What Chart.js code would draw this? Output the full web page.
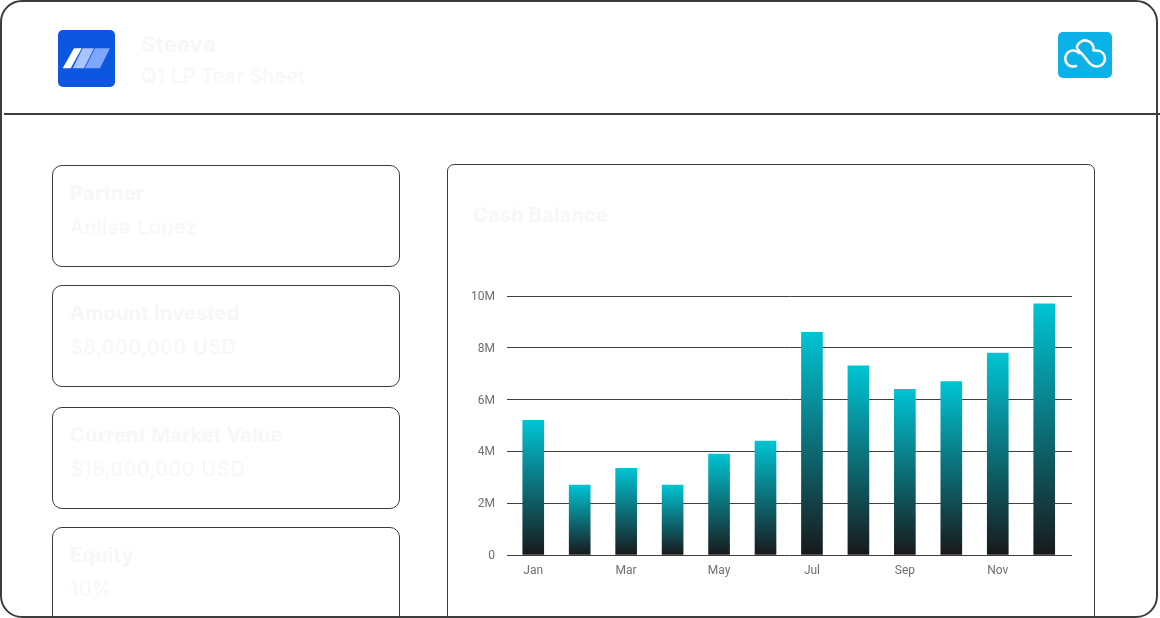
<!DOCTYPE html>
<html>
<head>
<meta charset="utf-8">
<script src="https://cdn.jsdelivr.net/npm/chart.js@4"></script>
<style>
html,body{margin:0;padding:0;background:#fff;width:1160px;height:618px;overflow:hidden}
#frame{position:absolute;left:0;top:0;width:1158px;height:618px;box-sizing:border-box;border:2px solid #3c3c3c;border-radius:22px;z-index:5;pointer-events:none}
#rule{position:absolute;left:4px;top:113px;width:1156px;height:2px;background:#3c3c3c;z-index:6}
.abs{position:absolute}
.t{position:absolute;color:#f7f7f8;font-family:Inter,"Open Sans",sans-serif;font-size:20px;white-space:nowrap;line-height:1;letter-spacing:.2px;z-index:3}
.b{font-weight:700}
.v{letter-spacing:.6px}
.card{position:absolute;box-sizing:border-box;left:52px;width:348px;height:102px;border:1px solid #3c3c3c;border-radius:10px;background:#fff}
#panel{position:absolute;box-sizing:border-box;left:447px;top:164px;width:648px;height:470px;border:1px solid #3c3c3c;border-radius:7px;background:#fff}
canvas{position:absolute;left:447px;top:164px}
</style>
</head>
<body>
<div id="frame"></div>
<div id="rule"></div>
<svg class="abs" style="left:0;top:0" width="1160" height="618">
  <rect x="58" y="30" width="57" height="57" rx="5" fill="#0d56e0"/>
  <polygon points="62.7,68.3 70.7,68.3 81.7,48.3 74,48.3" fill="#ffffff"/>
  <polygon points="72.7,68.3 84,68.3 94,48.3 82.7,48.3" fill="#a9c4ff"/>
  <polygon points="85,68.3 100,68.3 110,48.3 95,48.3" fill="#7ea6ff"/>
  <rect x="1058" y="32" width="54" height="46" rx="5" fill="#0ab2e8"/>
  <path d="M1076 66 A8 8 0 1 1 1079 53" fill="none" stroke="#fff" stroke-width="2.6" stroke-linecap="round"/>
  <path d="M1077 46.5 A8.5 8.5 0 0 1 1093.5 50.5 H1097 A8 8 0 0 1 1097 66.5 C1089 66.5 1087 58 1081 53 C1078 50 1076.5 48 1077 46.5" fill="none" stroke="#fff" stroke-width="2.6" stroke-linecap="round" stroke-linejoin="round"/>
</svg>
<div class="t b" style="left:141px;top:33px;font-size:22px">Steeva</div>
<div class="t" style="left:141px;top:66px">Q1 LP Tear Sheet</div>

<div class="card" style="top:164.5px"></div>
<div class="card" style="top:284.5px"></div>
<div class="card" style="top:406.5px"></div>
<div class="card" style="top:526.5px;height:140px"></div>
<div class="t b" style="left:70px;top:183px">Partner</div>
<div class="t v" style="left:70px;top:217px">Anlisa Lopez</div>
<div class="t b" style="left:70px;top:303px">Amount Invested</div>
<div class="t v" style="left:70px;top:337px">$8,000,000 USD</div>
<div class="t b" style="left:70px;top:425px">Current Market Value</div>
<div class="t v" style="left:70px;top:459px">$16,000,000 USD</div>
<div class="t b" style="left:70px;top:545px">Equity</div>
<div class="t v" style="left:70px;top:579px">10%</div>

<div id="panel"></div>
<div class="t b" style="left:473px;top:205px">Cash Balance</div>
<canvas id="c" width="648" height="450"></canvas>
<script>
const months = ["Jan","Feb","Mar","Apr","May","Jun","Jul","Aug","Sep","Oct","Nov","Dec"];
const cashBalance = [5200000,2700000,3350000,2700000,3900000,4400000,8600000,7300000,6400000,6700000,7800000,9700000];
const shownMonths = ["Jan","Mar","May","Jul","Sep","Nov"];

function barGradient(ctx){
  const chart = ctx.chart;
  if(!chart.chartArea || ctx.parsed === undefined) return "#00c4d4";
  const y = chart.scales.y;
  const top = y.getPixelForValue(ctx.parsed.y);
  const bottom = y.getPixelForValue(0);
  const g = chart.ctx.createLinearGradient(0, top, 0, bottom);
  g.addColorStop(0, "#00c4d4");
  g.addColorStop(1, "#18191b");
  return g;
}

new Chart(document.getElementById("c"), {
  type: "bar",
  data: { labels: months, datasets: [{ label: "Cash Balance", data: cashBalance, backgroundColor: barGradient, barThickness: 21, borderWidth: 0 }] },
  options: {
    responsive: false,
    animation: false,
    devicePixelRatio: 1,
    layout: { padding: { top: 132, right: 23, left: 0, bottom: 0 } },
    plugins: { legend: { display: false }, title: { display: false }, tooltip: { enabled: false } },
    scales: {
      x: {
        grid: { display: false, drawTicks: false },
        border: { display: false },
        ticks: {
          autoSkip: false, maxRotation: 0, padding: 9,
          color: "#6f6f6f", font: { family: "Roboto", size: 12 },
          callback(v){ const l = this.getLabelForValue(v); return shownMonths.includes(l) ? l : ""; }
        },
        afterFit(s){ s.height = 59; },
        afterUpdate(s){ s._startValue = -0.565; s._valueRange = 12.163; }
      },
      y: {
        min: 0, max: 10000000,
        grid: { color: "#3f3f3f", lineWidth: 1, drawTicks: false },
        border: { display: false },
        ticks: {
          stepSize: 2000000, padding: 12, labelOffset: 1,
          color: "#6f6f6f", font: { family: "Roboto", size: 12 },
          callback(v){ return v === 0 ? "0" : (v / 1000000) + "M"; }
        },
        afterFit(s){ s.width = 60; }
      }
    }
  }
});
</script>
</body>
</html>
